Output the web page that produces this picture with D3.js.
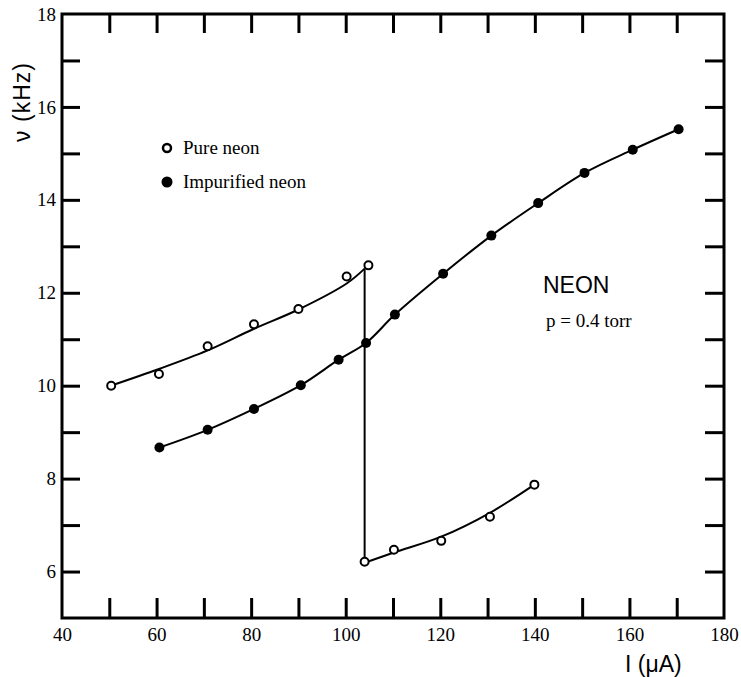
<!DOCTYPE html>
<html>
<head>
<meta charset="utf-8">
<script src="https://cdn.jsdelivr.net/npm/d3@7"></script>
<style>
  body { margin: 0; background: #fff; }
  svg { display: block; }
</style>
</head>
<body>
<div id="chart"></div>
<script>
// valori: I in microampere, nu in kHz
const pureHiI = [50.4, 60.5, 70.8, 80.6, 90.0, 100.2, 104.8];
const pureHiV = [10.00, 10.25, 10.85, 11.32, 11.65, 12.35, 12.59];
const pureLoI = [104.0, 110.2, 120.2, 130.5, 139.9];
const pureLoV = [6.21, 6.47, 6.66, 7.18, 7.87];
const impI = [60.6, 70.8, 80.6, 90.5, 98.5, 104.3, 110.4, 120.6, 130.8, 140.7, 150.5, 160.7, 170.4];
const impV = [8.67, 9.05, 9.50, 10.01, 10.56, 10.92, 11.53, 12.41, 13.23, 13.93, 14.58, 15.08, 15.52];

// curve di fit disegnate a mano
const fitHiI = [50.3, 60.5, 70.8, 80.5, 90.0, 100.2, 104.0];
const fitHiV = [10.0, 10.36, 10.76, 11.22, 11.64, 12.2, 12.52];
const fitLoI = [104.0, 110.2, 120.2, 130.6, 139.9];
const fitLoV = [6.19, 6.41, 6.75, 7.27, 7.87];

// tick
const xLabels = [40, 60, 80, 100, 120, 140, 160, 180];
const xMinor = d3.range(50, 171, 10);
const yLabels = [6, 8, 10, 12, 14, 16, 18];
const yMinor = d3.range(6, 18, 1);

const legendItems = ["Pure neon", "Impurified neon"];

const width = 741;
const height = 677;

const x = d3.scaleLinear().domain([40, 180]).range([62, 724]);
const y = d3.scaleLinear().domain([5, 18]).range([618, 14]);

const svg = d3.select("#chart").append("svg")
  .attr("width", width)
  .attr("height", height);

const serif = "'Liberation Serif', 'Times New Roman', serif";
const sans = "'Liberation Sans', Arial, sans-serif";

// tick interni su tutti e quattro i lati
function styleTicks(g) {
  g.select(".domain").remove();
  g.selectAll(".tick line").attr("stroke", "#000").attr("stroke-width", 3);
}

function styleLabels(g) {
  g.select(".domain").remove();
  g.attr("font-family", serif).attr("font-size", 19);
  g.selectAll(".tick text")
    .style("font-family", serif)
    .style("font-size", "19px")
    .attr("fill", "#000");
}

svg.append("g")
  .attr("transform", `translate(0,${y(5)})`)
  .call(d3.axisBottom(x).tickValues(xMinor).tickSize(-20).tickFormat(""))
  .call(styleTicks);

svg.append("g")
  .attr("transform", `translate(0,${y(18)})`)
  .call(d3.axisTop(x).tickValues(xMinor).tickSize(-19).tickFormat(""))
  .call(styleTicks);

svg.append("g")
  .attr("transform", `translate(${x(40)},0)`)
  .call(d3.axisLeft(y).tickValues(yMinor).tickSize(-18).tickFormat(""))
  .call(styleTicks);

svg.append("g")
  .attr("transform", `translate(${x(180)},0)`)
  .call(d3.axisRight(y).tickValues(yMinor).tickSize(-19).tickFormat(""))
  .call(styleTicks);

// etichette dei tick
svg.append("g")
  .attr("transform", `translate(0,${y(5)})`)
  .call(d3.axisBottom(x).tickValues(xLabels).tickSize(0).tickPadding(10).tickFormat(d3.format("d")))
  .call(styleLabels);

svg.append("g")
  .attr("transform", `translate(${x(40)},0)`)
  .call(d3.axisLeft(y).tickValues(yLabels).tickSize(0).tickPadding(6).tickFormat(d3.format("d")))
  .call(styleLabels);

// cornice
svg.append("rect")
  .attr("x", x(40))
  .attr("y", y(18))
  .attr("width", x(180) - x(40))
  .attr("height", y(5) - y(18))
  .attr("fill", "none")
  .attr("stroke", "#000")
  .attr("stroke-width", 3);

// curve
const line = d3.line()
  .x((d) => x(d[0]))
  .y((d) => y(d[1]))
  .curve(d3.curveCatmullRom);

const fitHi = fitHiI.map((d, i) => [d, fitHiV[i]]);
const fitLo = fitLoI.map((d, i) => [d, fitLoV[i]]);
const imp = impI.map((d, i) => [d, impV[i]]);
const pure = pureHiI.map((d, i) => [d, pureHiV[i]])
  .concat(pureLoI.map((d, i) => [d, pureLoV[i]]));

[fitHi, fitLo, imp].forEach((data) => {
  svg.append("path")
    .datum(data)
    .attr("d", line)
    .attr("fill", "none")
    .attr("stroke", "#000")
    .attr("stroke-width", 2);
});

// salto verticale tra i due rami
svg.append("line")
  .attr("x1", x(fitHiI[fitHiI.length - 1]))
  .attr("y1", y(fitHiV[fitHiV.length - 1]))
  .attr("x2", x(fitLoI[0]))
  .attr("y2", y(fitLoV[0]))
  .attr("stroke", "#000")
  .attr("stroke-width", 2);

// punti
svg.selectAll("circle.imp")
  .data(imp)
  .join("circle")
  .attr("class", "imp")
  .attr("cx", (d) => x(d[0]))
  .attr("cy", (d) => y(d[1]))
  .attr("r", 5)
  .attr("fill", "#000");

svg.selectAll("circle.pure")
  .data(pure)
  .join("circle")
  .attr("class", "pure")
  .attr("cx", (d) => x(d[0]))
  .attr("cy", (d) => y(d[1]))
  .attr("r", 4)
  .attr("fill", "#fff")
  .attr("stroke", "#000")
  .attr("stroke-width", 2);

// legenda
const legend = svg.append("g").attr("transform", "translate(167,148)");
legendItems.forEach((name, i) => {
  const g = legend.append("g").attr("transform", `translate(0,${i * 34})`);
  if (i === 0) {
    g.append("circle").attr("r", 4).attr("fill", "#fff").attr("stroke", "#000").attr("stroke-width", 2.5);
  } else {
    g.append("circle").attr("r", 5.5).attr("fill", "#000");
  }
  g.append("text")
    .attr("x", 16)
    .attr("y", 6)
    .attr("font-family", serif)
    .attr("font-size", 19)
    .text(name);
});

// annotazioni
svg.append("text")
  .attr("x", 543)
  .attr("y", 293)
  .attr("font-family", sans)
  .attr("font-size", 23)
  .text("NEON");

svg.append("text")
  .attr("x", 546)
  .attr("y", 327)
  .attr("font-family", serif)
  .attr("font-size", 19)
  .text("p = 0.4 torr");

// titoli degli assi
svg.append("text")
  .attr("transform", "translate(30,102) rotate(-90)")
  .attr("text-anchor", "middle")
  .attr("font-family", sans)
  .attr("font-size", 23)
  .attr("letter-spacing", 1)
  .text("\u03bd (kHz)");

svg.append("text")
  .attr("x", 625)
  .attr("y", 672)
  .attr("font-family", sans)
  .attr("font-size", 23)
  .text("I (\u03bcA)");
</script>
</body>
</html>
